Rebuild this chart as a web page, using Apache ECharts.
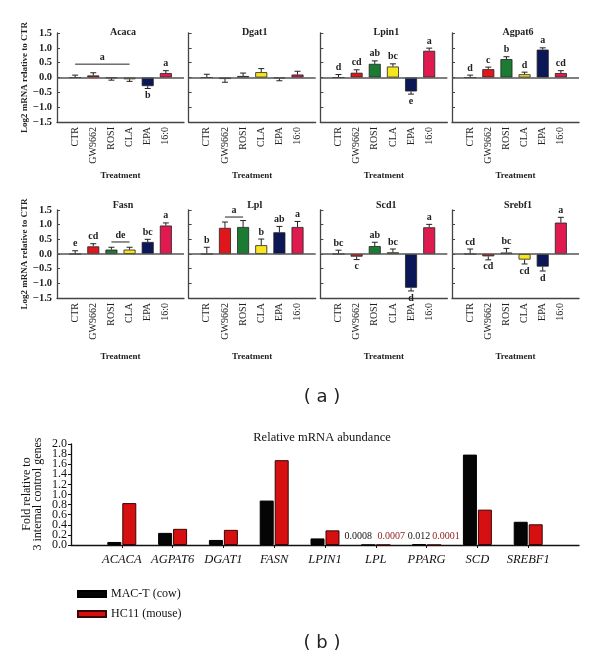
<!DOCTYPE html>
<html><head><meta charset="utf-8">
<script src="https://cdn.jsdelivr.net/npm/echarts@6/dist/echarts.min.js"></script>
<style>html,body{margin:0;padding:0;background:#fff}#c{width:600px;height:659px}</style>
</head><body><div id="c"></div>
<script>
// ---------- Panel (a) data ----------
const treatments = ['CTR', 'GW9662', 'ROSI', 'CLA', 'EPA', '16:0'];
const treatmentColors = ['#ffffff', '#e0161d', '#1b7b32', '#f7e51e', '#0c1758', '#de1a4f'];
const genesA = ['Acaca', 'Dgat1', 'Lpin1', 'Agpat6', 'Fasn', 'Lpl', 'Scd1', 'Srebf1'];

const acacaMean = [0, 0.07, -0.02, -0.06, -0.29, 0.15];
const acacaErr = [0.08, 0.09, 0.07, 0.07, 0.08, 0.08];
const acacaLetters = ['', '', '', '', 'b', 'a'];
const acacaGroup = ['CTR', 'CLA', 0.45, 'a'];

const dgat1Mean = [0, -0.05, 0.05, 0.18, -0.03, 0.10];
const dgat1Err = [0.11, 0.11, 0.10, 0.12, 0.08, 0.11];
const dgat1Letters = ['', '', '', '', '', ''];

const lpin1Mean = [0, 0.16, 0.46, 0.37, -0.47, 0.90];
const lpin1Err = [0.10, 0.10, 0.10, 0.09, 0.09, 0.09];
const lpin1Letters = ['d', 'cd', 'ab', 'bc', 'e', 'a'];

const agpat6Mean = [0, 0.28, 0.62, 0.11, 0.94, 0.15];
const agpat6Err = [0.08, 0.07, 0.08, 0.07, 0.06, 0.08];
const agpat6Letters = ['d', 'c', 'b', 'd', 'a', 'cd'];

const fasnMean = [0, 0.26, 0.15, 0.15, 0.41, 0.97];
const fasnErr = [0.11, 0.09, 0.08, 0.08, 0.09, 0.09];
const fasnLetters = ['e', 'cd', '', '', 'bc', 'a'];
const fasnGroup = ['ROSI', 'CLA', 0.41, 'de'];

const lplMean = [0, 0.89, 0.92, 0.30, 0.74, 0.92];
const lplErr = [0.23, 0.20, 0.22, 0.21, 0.20, 0.19];
const lplLetters = ['b', '', '', 'b', 'ab', 'a'];
const lplGroup = ['GW9662', 'ROSI', 1.26, 'a'];

const scd1Mean = [0, -0.09, 0.27, 0.06, -1.15, 0.91];
const scd1Err = [0.13, 0.10, 0.13, 0.11, 0.11, 0.10];
const scd1Letters = ['bc', 'c', 'ab', 'bc', 'd', 'a'];

const srebf1Mean = [0, -0.08, 0.05, -0.19, -0.43, 1.07];
const srebf1Err = [0.17, 0.12, 0.14, 0.15, 0.15, 0.18];
const srebf1Letters = ['cd', 'cd', 'bc', 'cd', 'd', 'a'];

const yTicksA = [-1.5, 1.5, 0.5]; // min, max, interval

// ---------- Panel (b) data ----------
const genesB = ['ACACA', 'AGPAT6', 'DGAT1', 'FASN', 'LPIN1', 'LPL', 'PPARG', 'SCD', 'SREBF1'];
const cowValues = [0.06, 0.24, 0.10, 0.88, 0.13, 0.0008, 0.012, 1.79, 0.46];
const mouseValues = [0.83, 0.32, 0.30, 1.68, 0.29, 0.0007, 0.0001, 0.70, 0.41];
const cowLabels = ['', '', '', '', '', '0.0008', '0.012', '', ''];
const mouseLabels = ['', '', '', '', '', '0.0007', '0.0001', '', ''];
const seriesNamesB = ['MAC-T (cow)', 'HC11 (mouse)'];
const yTicksB = [0, 2.0, 0.2];

// ---------- build ----------
const SERIF = '"Liberation Serif", "DejaVu Serif", serif';
const panels = [
  [acacaMean, acacaErr, acacaLetters, acacaGroup],
  [dgat1Mean, dgat1Err, dgat1Letters, null],
  [lpin1Mean, lpin1Err, lpin1Letters, null],
  [agpat6Mean, agpat6Err, agpat6Letters, null],
  [fasnMean, fasnErr, fasnLetters, fasnGroup],
  [lplMean, lplErr, lplLetters, lplGroup],
  [scd1Mean, scd1Err, scd1Letters, null],
  [srebf1Mean, srebf1Err, srebf1Letters, null]
];
const padCats = [''].concat(treatments, ['']);

const grid = [], xAxis = [], yAxis = [], series = [], graphic = [];
const fmtMinus = v => v.toFixed(1).replace('-', '\u2212');

panels.forEach((p, i) => {
  const [mean, err, letters, group] = p;
  const row = i < 4 ? 0 : 1, col = i % 4;
  const left = 57 + 131.67 * col;
  const top = row ? 210 : 33;
  const h = row ? 88 : 89;
  grid.push({ left: left, width: 127, top: top, height: h });
  xAxis.push({
    gridIndex: i, type: 'category', data: padCats, boundaryGap: false,
    axisLine: { onZero: false, lineStyle: { color: '#444', width: 1.3 } },
    axisTick: { show: false },
    axisLabel: { rotate: 90, interval: 0, fontSize: 10, fontFamily: SERIF, color: '#222', margin: 5 },
    name: 'Treatment', nameLocation: 'middle', nameGap: row ? 54 : 49,
    nameTextStyle: { fontSize: 9, fontWeight: 'bold', fontFamily: SERIF, color: '#222' }
  });
  yAxis.push({
    gridIndex: i, type: 'value', min: yTicksA[0], max: yTicksA[1], interval: yTicksA[2],
    axisLine: { show: true, lineStyle: { color: '#444', width: 1.3 } },
    axisTick: { show: true, inside: true, length: 3, lineStyle: { color: '#444' } },
    splitLine: { show: false },
    axisLabel: { show: col === 0, showMinLabel: true, showMaxLabel: true, formatter: fmtMinus, fontSize: 10.5, fontWeight: 'bold', fontFamily: SERIF, color: '#222', margin: 5 },
    name: col === 0 ? 'Log2 mRNA relative to CTR' : '', nameLocation: 'middle', nameRotate: 90, nameGap: 25,
    nameTextStyle: { fontSize: 9, fontWeight: 'bold', fontFamily: SERIF, color: '#222' }
  });
  graphic.push({
    type: 'text', x: left + 66, y: row ? 205 : 32,
    style: { text: genesA[i], font: 'bold 10px ' + SERIF, fill: '#222', align: 'center', verticalAlign: 'middle', textAlign: 'center', textVerticalAlign: 'middle' }
  });
  series.push({
    type: 'bar', xAxisIndex: i, yAxisIndex: i, barWidth: 12,
    data: [null].concat(mean.map((v, k) => ({ value: v, itemStyle: { color: treatmentColors[k] } })), [null]),
    itemStyle: { borderColor: '#222', borderWidth: 0.8 },
    silent: true, animation: false,
    markLine: {
      silent: true, symbol: 'none', label: { show: false }, animation: false,
      lineStyle: { color: '#555', width: 1.6, type: 'solid' },
      data: [{ yAxis: 0 }]
    }
  });
  series.push({
    type: 'custom', xAxisIndex: i, yAxisIndex: i, animation: false, silent: true,
    encode: { x: 0, y: 1 },
    data: mean.map((v, k) => [k + 1, v, err[k]]),
    renderItem: (params, api) => {
      const x = api.value(0), m = api.value(1), e = api.value(2);
      const dir = m < 0 ? -1 : 1;
      const p0 = api.coord([x, m]);
      const p1 = api.coord([x, m + dir * e]);
      const children = [
        { type: 'line', shape: { x1: p0[0], y1: p0[1], x2: p1[0], y2: p1[1] }, style: { stroke: '#222', lineWidth: 1 } },
        { type: 'line', shape: { x1: p1[0] - 3, y1: p1[1], x2: p1[0] + 3, y2: p1[1] }, style: { stroke: '#222', lineWidth: 1 } }
      ];
      const t = letters[params.dataIndex];
      if (t) {
        const va = dir > 0 ? 'bottom' : 'top';
        children.push({
          type: 'text',
          style: { text: t, x: p1[0], y: p1[1] - dir * 2, font: 'bold 10px ' + SERIF, fill: '#222', align: 'center', verticalAlign: va, textAlign: 'center', textVerticalAlign: va }
        });
      }
      return { type: 'group', children: children };
    }
  });
  if (group) {
    series.push({
      type: 'custom', xAxisIndex: i, yAxisIndex: i, animation: false, silent: true,
      encode: { x: [0, 1], y: 2 },
      data: [[treatments.indexOf(group[0]) + 1, treatments.indexOf(group[1]) + 1, group[2]]],
      renderItem: (params, api) => {
        const a = api.coord([api.value(0), api.value(2)]);
        const b = api.coord([api.value(1), api.value(2)]);
        return {
          type: 'group', children: [
            { type: 'line', shape: { x1: a[0], y1: a[1], x2: b[0], y2: b[1] }, style: { stroke: '#222', lineWidth: 1 } },
            { type: 'text', style: { text: group[3], x: (a[0] + b[0]) / 2, y: a[1] - 2, font: 'bold 10px ' + SERIF, fill: '#222', align: 'center', verticalAlign: 'bottom', textAlign: 'center', textVerticalAlign: 'bottom' } }
          ]
        };
      }
    });
  }
});

// ---------- panel (b) ----------
const gb = 8;
const padGenes = [''].concat(genesB, ['']);
grid.push({ left: 71, right: 21, top: 444, height: 101 });
xAxis.push({
  gridIndex: gb, type: 'category', data: padGenes, boundaryGap: false,
  axisLine: { lineStyle: { color: '#111', width: 1.3 } },
  axisTick: { show: true, length: 3, interval: (idx) => idx > 0 && idx < padGenes.length - 1, lineStyle: { color: '#111' } },
  axisLabel: { interval: 0, fontSize: 12.5, fontStyle: 'italic', fontFamily: SERIF, color: '#111', margin: 8 }
});
// two overlaid y axes on the same scale: one labels even steps, the other odd steps
const stepIndex = v => Math.round((v - yTicksB[0]) / yTicksB[2]);
[0, 1].forEach(parity => {
  yAxis.push({
    gridIndex: gb, type: 'value', position: 'left', offset: 0,
    min: yTicksB[0], max: yTicksB[1], interval: yTicksB[2],
    axisLine: { show: parity === 0, lineStyle: { color: '#111', width: 1.3 } },
    axisTick: { show: parity === 0, length: 3, lineStyle: { color: '#111' } },
    splitLine: { show: false },
    axisLabel: {
      showMinLabel: true, showMaxLabel: true,
      formatter: v => (stepIndex(v) % 2 === parity ? v.toFixed(1) : ''),
      fontSize: 12, fontFamily: SERIF, color: '#111', margin: 4
    }
  });
});
graphic.push({
  type: 'text', x: 32, y: 494, rotation: Math.PI / 2,
  style: { text: 'Fold relative to\n3 internal control genes', font: '12px ' + SERIF, lineHeight: 11, fill: '#111', align: 'center', verticalAlign: 'middle', textAlign: 'center', textVerticalAlign: 'middle' }
});
const labOffCow = [-10, 0], labOffMouse = [8, 12];
function bData(vals, labs, offs) {
  let li = 0;
  return [null].concat(vals.map((v, k) => {
    if (!labs[k]) return v;
    const off = offs[li++];
    return {
      value: v,
      label: { show: true, position: 'top', distance: 3, offset: [off, 0], formatter: labs[k], fontSize: 10, fontFamily: SERIF, color: labs === cowLabels ? '#111' : '#8b1a1a' }
    };
  }), [null]);
}
series.push({
  type: 'bar', name: seriesNamesB[0], xAxisIndex: gb, yAxisIndex: gb, barWidth: 14, barGap: '7%',
  animation: false, silent: true,
  itemStyle: { color: '#050505', borderColor: '#000', borderWidth: 1 },
  data: bData(cowValues, cowLabels, labOffCow)
});
series.push({
  type: 'bar', name: seriesNamesB[1], xAxisIndex: gb, yAxisIndex: gb, barWidth: 14, barGap: '7%',
  animation: false, silent: true,
  itemStyle: { color: '#d60f10', borderColor: '#3a0505', borderWidth: 1 },
  data: bData(mouseValues, mouseLabels, labOffMouse)
});

graphic.push({ type: 'text', x: 322, y: 438, style: { text: 'Relative mRNA abundance', font: '12.5px ' + SERIF, fill: '#111', align: 'center', verticalAlign: 'middle', textAlign: 'center', textVerticalAlign: 'middle' } });
graphic.push({ type: 'text', x: 322, y: 397, style: { text: '( a )', font: '18px "DejaVu Sans"', fill: '#222', align: 'center', verticalAlign: 'middle', textAlign: 'center', textVerticalAlign: 'middle' } });
graphic.push({ type: 'text', x: 322, y: 643, style: { text: '( b )', font: '18px "DejaVu Sans"', fill: '#222', align: 'center', verticalAlign: 'middle', textAlign: 'center', textVerticalAlign: 'middle' } });

const chart = echarts.init(document.getElementById('c'), null, { renderer: 'canvas' });
chart.setOption({
  backgroundColor: '#fff',
  animation: false,
  grid: grid, xAxis: xAxis, yAxis: yAxis, series: series, graphic: graphic,
  legend: {
    data: seriesNamesB, orient: 'vertical', left: 72, top: 583, itemWidth: 28, itemHeight: 6, itemGap: 8,
    icon: 'rect', selectedMode: false,
    textStyle: { fontSize: 12, fontFamily: SERIF, color: '#111' }
  }
});
</script>
</body></html>
